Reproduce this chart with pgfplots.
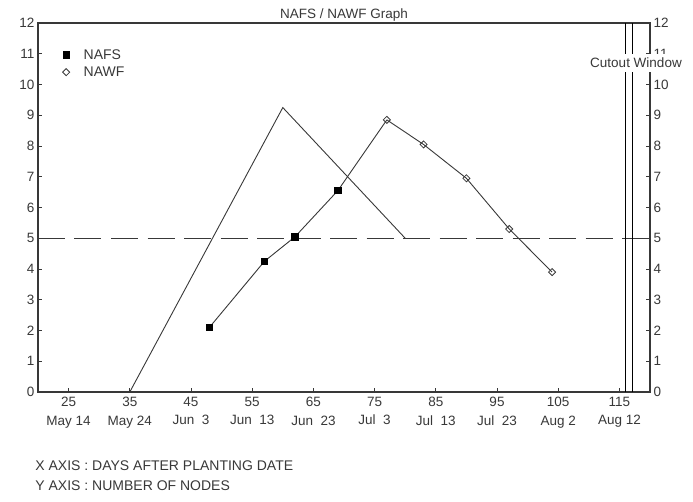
\documentclass[border=0pt]{standalone}
\usepackage{fontspec}
\setmainfont{Liberation Sans}
\usepackage{pgfplots}
\pgfplotsset{compat=1.18}
\definecolor{ink}{gray}{0.22}
\begin{document}
\begin{tikzpicture}[font=\fontsize{14}{17}\selectfont]
\begin{axis}[name=main, scale only axis, width=612pt, height=369pt,
  xmin=20, xmax=120, ymin=0, ymax=12,
  xtick={25,35,...,115},
  xticklabels={{25\\May 14},{35\\May 24},{45\\Jun\ \ 3},{55\\Jun\ \ 13},{65\\Jun\ \ 23},{75\\Jul\ \ 3},{85\\Jul\ \ 13},{95\\Jul\ \ 23},{105\\Aug 2},{115\\Aug 12}},
  xticklabel style={align=center, text=ink, font=\fontsize{13.5}{18.5}\selectfont, inner sep=1pt, yshift=-4pt},
  yticklabel style={text=ink, font=\fontsize{13.5}{16}\selectfont},
  /pgf/number format/assume math mode=true,
  xtick pos=bottom, ytick={0,1,...,12}, ytick pos=left,
  tick align=inside, major tick length=4pt,
  axis line style={line width=1.1pt, ink},
  tick style={line width=0.8pt, ink},
  clip=false,
  title={NAFS / NAWF Graph}, title style={text=ink, yshift=-8pt, font=\fontsize{13.5}{16}\selectfont},
  legend style={draw=none, fill=none, at={(0.035,0.94)}, anchor=north west, text=ink, row sep=2pt, column sep=12pt, font=\fontsize{14}{17}\selectfont},
  legend cell align=left,
]
\addlegendimage{only marks, mark=square*, mark size=3.3pt, black}
\addlegendimage{only marks, mark=square, mark size=2.5pt, ink, mark options={fill=white, line width=0.8pt, rotate=45}}
\legend{NAFS,NAWF}
% dashed threshold
\addplot[ink, line width=1.1pt, dash pattern=on 27pt off 9.5pt] coordinates {(20,5) (116,5)};
\addplot[ink, line width=1.1pt] coordinates {(116,5) (120,5)};
% triangle line
\addplot[ink, line width=0.9pt] coordinates {(35,0) (60,9.25) (80,5)};
% NAFS
\addplot[ink, line width=0.9pt, mark=square*, mark size=3.3pt, mark indices={1,2,3,4}, mark options={black, solid}] coordinates {(48,2.1) (57,4.25) (62,5.05) (69,6.55) (77,8.85)};
% NAWF
\addplot[ink, line width=0.9pt, mark=square, mark size=2.5pt, mark options={ink, fill=white, line width=0.8pt, rotate=45}] coordinates {(77,8.85) (83,8.05) (90,6.95) (97,5.3) (104,3.9)};
% cutout window lines
\addplot[black, line width=1pt] coordinates {(116,0) (116,12)};
\addplot[black, line width=1pt] coordinates {(117.1,0) (117.1,12)};
\node[anchor=west, text=ink, font=\fontsize{14}{17}\selectfont] at (rel axis cs:-0.01,-0.2) {X AXIS : DAYS AFTER PLANTING DATE};
\node[anchor=west, text=ink, font=\fontsize{14}{17}\selectfont] at (rel axis cs:-0.01,-0.254) {Y AXIS : NUMBER OF NODES};
\end{axis}
\begin{axis}[scale only axis, width=612pt, height=369pt,
  xmin=20, xmax=120, ymin=0, ymax=12,
  hide x axis, axis y line*=right,
  ytick={0,1,...,12}, yticklabel style={text=ink, font=\fontsize{13.5}{16}\selectfont},
  /pgf/number format/assume math mode=true,
  tick align=inside, major tick length=4pt,
  axis line style={line width=1.1pt, ink},
  tick style={line width=0.8pt, ink},
]
\end{axis}
\node[fill=white, inner xsep=1pt, inner ysep=4pt, text=ink, font=\fontsize{13.5}{16}\selectfont] at ([xshift=-14pt,yshift=-40pt]main.north east) {Cutout Window};
\path[use as bounding box] ([xshift=-38pt,yshift=-109pt]main.south west) rectangle ([xshift=43pt,yshift=23pt]main.north east);
\end{tikzpicture}
\end{document}
